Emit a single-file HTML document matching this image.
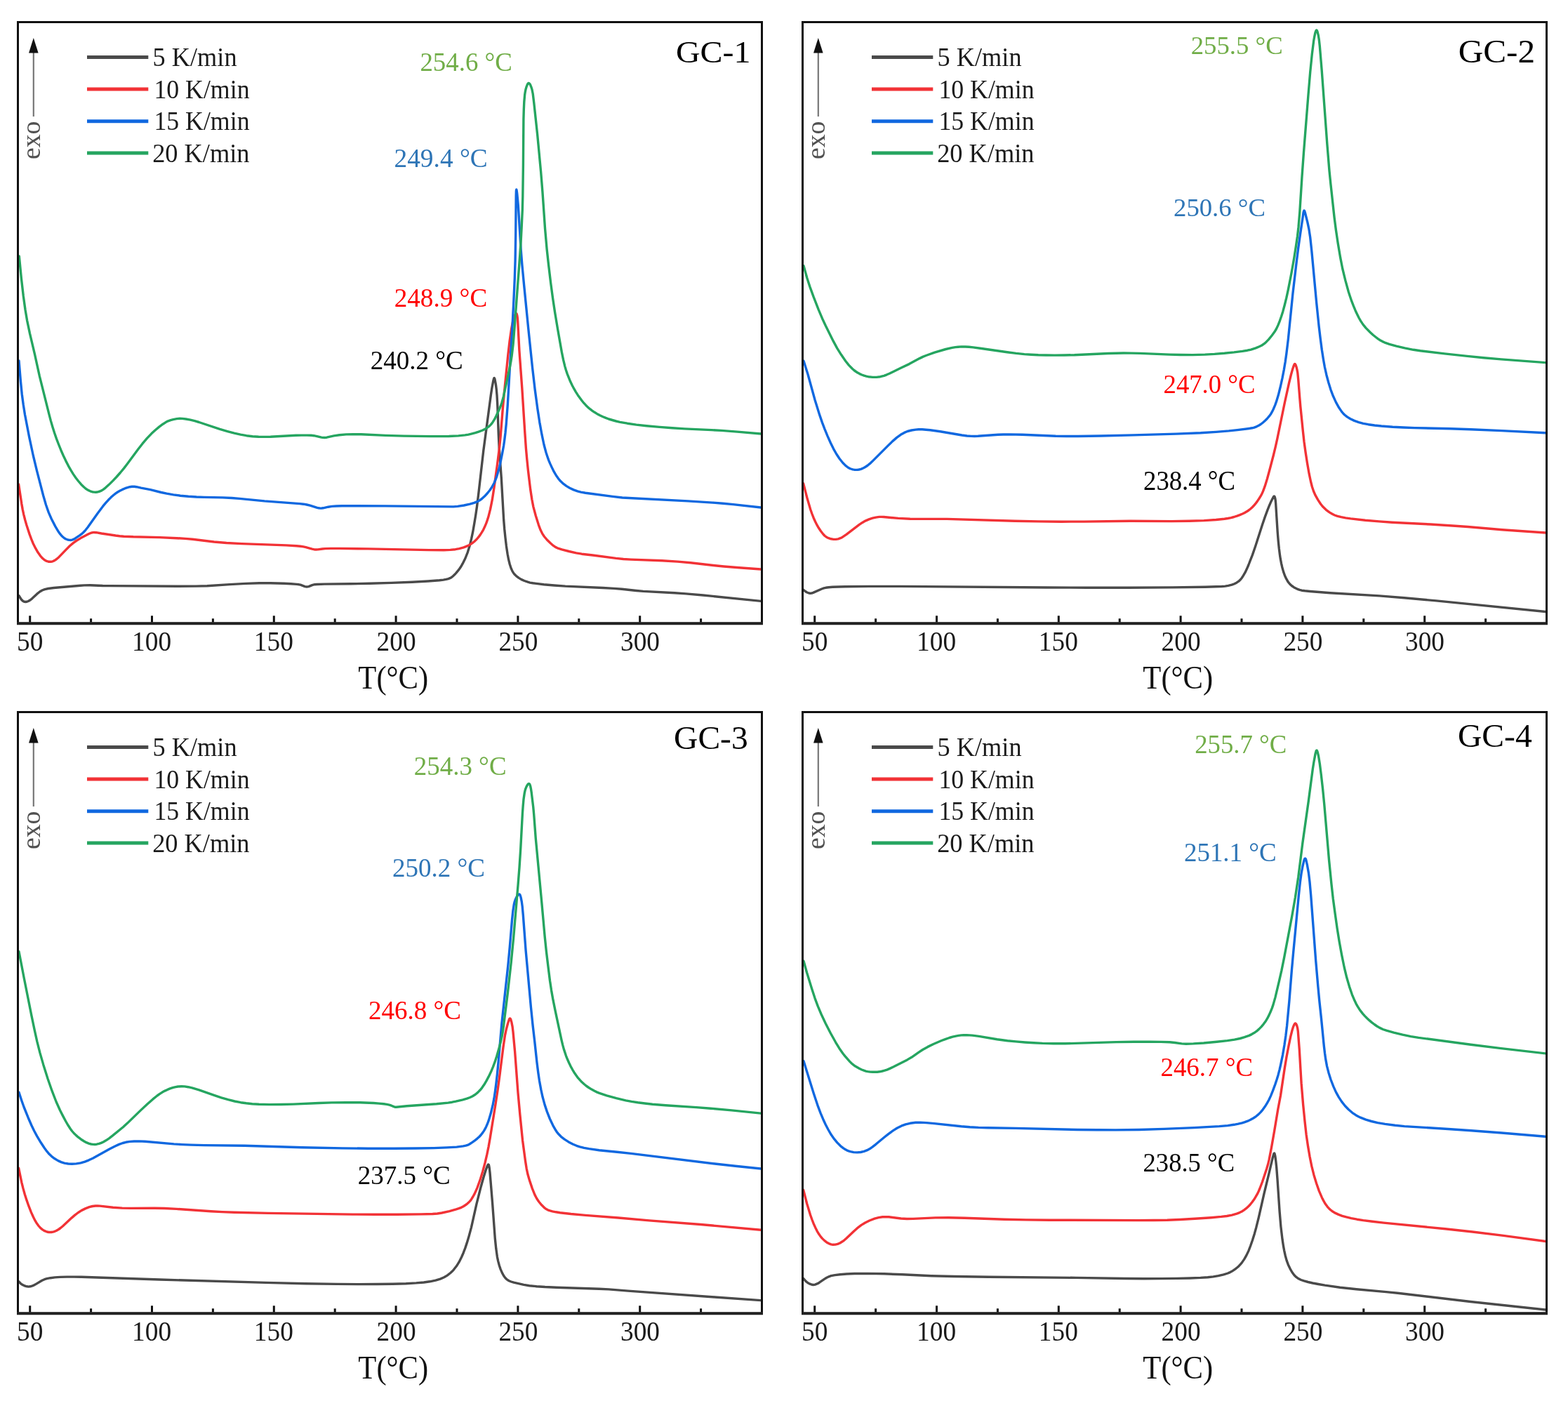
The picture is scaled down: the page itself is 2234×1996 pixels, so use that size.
<!DOCTYPE html>
<html><head><meta charset="utf-8"><title>DSC curves GC-1 to GC-4</title>
<style>html,body{margin:0;padding:0;background:#fff;}svg{display:block;}text{font-family:"Liberation Serif","Times New Roman",serif;}</style>
</head><body>
<svg xmlns="http://www.w3.org/2000/svg" width="2234" height="1996" viewBox="0 0 2234 1996">
<rect width="2234" height="1996" fill="#fff"/>
<defs>
<clipPath id="c1"><rect x="27" y="33" width="1057" height="853.5"/></clipPath>
<clipPath id="c2"><rect x="1145" y="33" width="1057" height="853.5"/></clipPath>
<clipPath id="c3"><rect x="27" y="1016" width="1057" height="853.5"/></clipPath>
<clipPath id="c4"><rect x="1145" y="1016" width="1057" height="853.5"/></clipPath>
</defs>
<g clip-path="url(#c1)" fill="none" stroke-width="3.4" stroke-linejoin="round" stroke-linecap="round">
<path d="M27.0,848.7 30.1,853.7 32.3,856.0 33.6,856.8 35.0,857.3 36.5,857.5 37.8,857.3 40.3,856.5 43.3,854.7 45.9,852.6 52.7,846.2 56.7,843.0 60.1,841.0 63.8,839.6 68.8,838.5 76.7,837.5 114.6,834.2 120.0,833.9 128.4,833.8 146.3,834.5 155.3,834.6 252.2,835.2 279.0,835.1 295.1,834.7 327.3,832.6 350.3,831.4 369.4,830.8 385.3,830.7 405.0,831.2 414.5,831.7 422.9,832.4 426.1,832.8 428.0,833.2 434.4,835.6 435.7,835.9 437.1,836.0 438.4,835.9 439.8,835.6 444.7,833.6 446.4,833.1 448.3,832.7 451.4,832.5 462.4,832.1 500.0,831.8 526.3,831.3 557.5,830.4 587.3,829.3 609.8,828.0 626.1,826.8 631.7,826.1 635.6,825.4 638.8,824.6 641.1,823.7 643.4,822.4 645.2,821.0 647.8,818.6 650.0,816.2 652.7,812.9 654.9,810.0 657.2,806.5 659.2,802.9 662.9,795.5 666.4,786.6 669.2,777.6 671.6,767.7 673.7,757.7 675.6,746.8 677.6,734.8 679.5,721.7 681.9,702.4 688.8,642.0 699.5,561.8 701.0,552.1 702.7,543.0 703.6,539.5 704.0,538.6 704.2,538.5 704.6,539.0 705.0,540.2 706.4,547.7 707.3,554.9 708.0,562.9 708.8,577.4 710.3,619.2 711.2,638.1 714.3,680.9 717.7,741.0 718.7,753.5 720.0,766.1 721.4,777.9 723.1,789.2 724.6,797.2 726.3,804.0 728.2,809.8 730.2,814.1 731.7,816.4 732.9,818.0 735.8,820.9 739.2,823.4 742.9,825.6 747.2,827.5 752.0,829.2 755.1,830.1 759.3,830.8 774.9,832.7 789.6,834.0 805.5,835.1 858.9,837.5 874.5,838.4 886.0,839.3 906.5,841.5 916.5,842.4 961.3,844.8 977.2,845.9 1001.7,848.0 1084.0,856.4" stroke="#4a4a4a"/>
<path d="M26.6,690.0 30.8,717.6 32.2,725.6 33.8,733.1 35.8,741.0 37.9,748.2 42.1,761.1 44.7,768.2 47.3,774.5 50.7,781.2 53.9,786.8 57.4,791.8 60.3,795.1 63.4,797.7 66.5,799.4 68.4,800.0 69.8,800.2 72.4,800.3 75.0,799.8 77.6,798.6 80.4,796.8 84.2,793.4 93.6,783.6 99.4,777.8 104.3,773.6 108.6,770.5 115.1,766.6 126.1,760.8 128.5,759.7 130.5,759.0 132.5,758.6 133.8,758.5 137.2,758.7 144.6,760.0 164.7,763.0 170.5,763.7 176.4,764.2 189.9,764.8 227.7,765.6 251.9,766.7 263.7,767.4 274.2,768.3 305.0,772.0 322.7,773.5 344.6,774.6 407.9,776.9 422.3,777.7 428.0,778.3 432.3,778.9 435.7,779.7 444.6,782.2 447.3,782.7 450.0,783.0 452.9,782.9 459.3,782.0 463.3,781.6 471.3,781.4 483.3,781.4 524.3,781.9 611.4,783.6 632.3,783.7 641.6,783.4 648.7,782.7 654.4,781.7 660.7,779.9 664.5,778.4 668.2,776.7 671.2,774.9 673.9,773.0 676.5,770.9 679.4,768.0 681.6,765.4 684.1,762.1 686.3,758.7 688.6,754.8 690.6,750.6 692.5,746.2 694.2,741.4 695.7,736.8 698.6,725.3 701.3,711.9 703.9,695.2 708.6,661.0 711.6,637.2 713.2,621.2 716.5,580.0 718.4,559.6 723.9,504.8 726.1,485.9 728.7,468.1 730.9,456.8 732.2,452.4 733.4,449.2 734.7,447.0 735.1,446.6 735.5,446.5 736.1,447.0 736.7,449.1 737.3,452.7 737.7,457.7 739.9,499.5 743.8,552.8 747.9,617.4 749.4,638.8 750.7,653.3 752.3,669.2 754.1,684.3 755.8,698.1 757.9,711.8 759.9,722.1 763.3,734.7 767.3,747.6 770.1,755.1 772.6,760.1 775.5,764.5 780.1,769.8 784.2,773.8 788.1,777.2 791.3,779.4 794.2,780.8 800.5,782.8 810.6,785.5 821.0,787.8 828.8,789.2 844.4,791.0 877.6,795.4 888.2,796.5 899.0,797.1 943.3,798.8 965.5,800.1 983.9,801.8 1016.4,805.5 1031.2,807.0 1053.0,808.8 1084.0,811.0" stroke="#f23236"/>
<path d="M27.0,514.0 29.4,543.0 31.2,561.2 33.2,576.3 35.5,590.7 41.6,622.4 47.3,649.0 52.7,671.4 61.6,705.7 65.5,719.3 69.2,729.9 73.3,739.2 78.9,750.1 83.5,757.8 85.4,760.4 87.5,763.0 89.6,765.0 91.7,766.7 93.9,768.0 96.5,769.0 98.7,769.4 100.8,769.5 102.8,769.1 104.7,768.4 107.7,766.7 113.4,762.9 116.1,760.9 118.8,758.5 121.8,755.3 125.0,751.2 139.0,731.4 146.7,721.2 150.7,716.4 154.4,712.3 158.1,708.6 161.6,705.5 164.9,702.9 167.7,701.0 170.7,699.3 174.4,697.4 178.3,695.7 181.6,694.6 184.9,693.7 188.0,693.2 191.4,693.2 194.6,693.7 201.0,695.1 214.3,697.7 229.6,701.5 237.4,703.2 247.1,704.9 257.0,706.2 268.5,707.3 280.0,708.0 290.9,708.4 317.2,708.9 330.3,709.5 341.2,710.4 376.9,713.9 427.0,717.6 432.4,718.2 437.0,719.0 441.7,720.2 451.1,723.2 453.8,723.8 456.4,724.1 458.4,724.0 460.4,723.8 467.7,722.2 472.9,721.4 479.3,721.0 487.5,720.7 548.5,720.9 646.0,721.9 652.0,721.4 661.0,720.0 669.5,718.2 675.6,716.4 680.0,714.7 683.4,712.8 686.6,710.5 690.4,707.1 694.6,702.5 698.2,698.0 701.2,693.3 704.0,688.2 706.0,683.5 707.9,678.4 709.7,672.2 711.6,665.1 713.7,655.5 715.7,645.5 717.6,635.0 718.8,626.4 720.0,616.7 721.2,604.6 723.3,576.7 726.8,516.5 729.9,467.2 731.8,430.0 733.3,396.8 734.1,371.3 734.7,335.8 735.2,279.4 735.4,272.3 735.6,270.4 735.8,270.0 736.2,271.6 736.7,275.4 738.3,292.7 742.2,356.0 743.9,377.6 746.6,406.0 752.7,467.6 758.5,523.4 762.2,555.2 765.8,582.0 768.8,601.6 771.9,618.7 775.0,633.5 778.0,644.8 779.9,650.5 781.7,655.6 783.8,660.6 786.1,665.6 788.5,670.6 790.8,674.7 793.2,678.6 795.5,681.8 798.7,685.6 802.6,689.2 806.9,692.4 811.7,695.2 817.3,697.9 822.9,699.9 827.6,701.1 834.0,702.2 872.8,707.4 886.6,709.0 980.2,713.9 1015.3,716.1 1030.0,717.2 1044.6,718.6 1084.0,723.0" stroke="#1068e0"/>
<path d="M27.3,365.0 30.4,396.7 33.3,421.7 36.0,441.2 38.7,457.1 42.5,475.1 49.6,505.2 56.4,536.1 69.9,590.1 72.4,599.6 74.9,608.2 77.6,616.8 80.4,624.9 83.5,633.0 86.8,641.2 90.2,649.0 93.8,656.6 97.5,663.8 101.1,670.2 104.3,675.4 107.8,680.5 111.7,685.5 115.7,690.2 119.4,693.8 122.2,696.2 125.6,698.4 128.7,699.8 131.3,700.7 133.9,701.1 136.7,701.2 139.9,700.7 142.3,700.0 144.8,698.9 147.5,697.1 150.4,694.8 155.1,690.6 160.9,684.9 166.0,679.5 171.3,673.5 176.4,667.4 181.3,661.0 197.0,639.8 202.9,632.2 209.5,624.4 216.0,617.6 221.0,613.0 226.8,608.1 232.1,604.2 236.2,601.6 239.6,599.8 243.0,598.6 246.8,597.6 251.8,596.6 256.1,596.3 259.7,596.4 264.8,597.0 271.1,598.2 277.3,599.7 283.5,601.5 313.2,611.4 324.2,614.6 333.8,617.2 342.7,619.1 351.3,620.7 359.8,621.7 368.4,622.3 376.6,622.4 385.4,622.3 421.6,620.3 429.7,620.1 437.4,620.1 443.3,620.3 447.3,620.7 450.6,621.3 458.0,623.1 460.0,623.4 462.1,623.5 465.5,623.2 475.7,620.9 483.5,619.8 493.3,618.9 503.0,618.6 514.5,618.8 549.3,620.4 575.5,621.1 612.8,621.6 639.5,621.5 653.1,620.9 662.5,619.9 667.4,619.1 672.5,617.9 677.2,616.7 681.9,615.2 687.6,613.0 692.6,610.4 696.5,607.7 699.4,604.9 701.9,601.7 704.7,597.2 707.1,592.3 711.6,582.5 713.4,578.2 714.8,574.2 717.3,565.1 726.3,523.3 727.9,515.0 729.1,507.2 731.1,490.5 733.3,463.5 740.8,363.4 742.2,342.7 743.3,321.0 744.3,299.3 744.8,279.9 745.4,235.2 745.9,170.2 746.3,156.2 746.8,145.0 747.7,134.7 748.3,130.8 749.1,126.9 750.1,123.6 751.3,120.5 752.3,119.0 753.0,118.5 753.4,118.5 753.8,118.6 754.5,119.2 755.6,120.8 756.8,123.8 758.0,127.6 759.2,133.5 760.8,146.8 765.7,192.3 770.6,244.3 772.9,272.8 776.6,326.3 779.1,354.9 781.5,376.8 784.6,402.6 787.6,424.9 790.6,445.0 794.6,469.0 800.3,501.4 802.6,512.7 804.9,522.1 806.4,527.3 808.2,532.6 810.2,537.7 812.5,543.3 815.1,548.7 817.7,553.7 820.4,558.4 823.3,562.9 828.8,570.5 831.8,574.2 834.6,577.2 837.5,580.1 840.6,582.7 843.7,585.1 847.0,587.3 850.4,589.4 854.7,591.7 859.0,593.7 863.1,595.4 867.3,597.0 872.4,598.5 877.7,600.0 883.3,601.3 893.8,603.2 906.6,605.1 921.2,606.7 939.6,608.4 957.8,609.8 975.2,610.9 1013.9,612.6 1027.9,613.4 1050.4,615.1 1084.0,618.0" stroke="#25a560"/>
</g>
<path d="M25.5,31.5H1085.5V888.3H25.5Z" fill="none" stroke="#111" stroke-width="3"/>
<path d="M24,888.3H1087" stroke="#222" stroke-width="4"/>
<path d="M42.7,886.5V877.3M216.5,886.5V877.3M390.3,886.5V877.3M564.1,886.5V877.3M737.9,886.5V877.3M911.7,886.5V877.3M129.6,886.5V881.3M303.4,886.5V881.3M477.2,886.5V881.3M651.0,886.5V881.3M824.8,886.5V881.3M998.6,886.5V881.3" stroke="#111" stroke-width="3"/>
<text transform="translate(24.06,927.21) scale(0.9472,1)" font-size="39.40" fill="#1a1a1a">50</text>
<text transform="translate(188.07,927.21) scale(0.9472,1)" font-size="39.40" fill="#1a1a1a">100</text>
<text transform="translate(361.87,927.21) scale(0.9472,1)" font-size="39.40" fill="#1a1a1a">150</text>
<text transform="translate(536.61,927.21) scale(0.9472,1)" font-size="39.40" fill="#1a1a1a">200</text>
<text transform="translate(710.41,927.21) scale(0.9472,1)" font-size="39.40" fill="#1a1a1a">250</text>
<text transform="translate(884.02,927.21) scale(0.9472,1)" font-size="39.40" fill="#1a1a1a">300</text>
<text transform="translate(510.35,981.32) scale(0.9245,1)" font-size="46.11" fill="#111">T(°C)</text>
<path d="M47.8,75V166" stroke="#777" stroke-width="2.2"/>
<path d="M47.8,54L54.6,75.5L41,75.5Z" fill="#111"/>
<text transform="translate(57.23,227.01) rotate(-90) scale(1.0199,1)" font-size="37" fill="#505050">exo</text>
<path d="M124,81.6H211.3" stroke="#4a4a4a" stroke-width="5"/>
<text transform="translate(217.62,94.20) scale(0.9499,1)" font-size="38.2" fill="#1a1a1a">5 K/min</text>
<path d="M124,127H211.3" stroke="#f23236" stroke-width="5"/>
<text transform="translate(219.38,139.80) scale(0.9367,1)" font-size="38.2" fill="#1a1a1a">10 K/min</text>
<path d="M124,172.7H211.3" stroke="#1068e0" stroke-width="5"/>
<text transform="translate(219.38,185.20) scale(0.9367,1)" font-size="38.2" fill="#1a1a1a">15 K/min</text>
<path d="M124,218H211.3" stroke="#25a560" stroke-width="5"/>
<text transform="translate(217.15,230.60) scale(0.9522,1)" font-size="38.2" fill="#1a1a1a">20 K/min</text>
<text transform="translate(962.88,88.60) scale(1.0660,1)" font-size="45.00" fill="#000">GC-1</text>
<text transform="translate(598.42,101.04) scale(0.9685,1)" font-size="38.09" fill="#70ad47">254.6 °C</text>
<text transform="translate(561.50,237.86) scale(1.0046,1)" font-size="37.21" fill="#2e75b6">249.4 °C</text>
<text transform="translate(561.71,437.05) scale(0.9953,1)" font-size="37.35" fill="#ff0000">248.9 °C</text>
<text transform="translate(527.72,525.56) scale(0.9953,1)" font-size="37.21" fill="#000000">240.2 °C</text>
<g clip-path="url(#c2)" fill="none" stroke-width="3.4" stroke-linejoin="round" stroke-linecap="round">
<path d="M1144.6,840.2 1147.4,842.5 1149.8,844.0 1152.4,845.0 1154.5,845.2 1156.6,845.0 1158.6,844.4 1170.8,839.0 1173.9,837.9 1176.6,837.3 1180.7,836.7 1186.2,836.3 1204.1,835.7 1238.3,835.4 1282.3,835.4 1491.3,837.0 1548.6,837.2 1607.2,837.2 1670.3,836.9 1717.2,836.2 1740.6,835.5 1745.6,835.1 1750.0,834.3 1755.0,833.2 1758.2,832.0 1761.8,830.2 1764.8,828.2 1766.8,826.3 1769.2,823.5 1771.5,819.9 1774.1,815.4 1776.4,810.6 1778.8,805.0 1784.4,790.6 1788.9,777.5 1798.6,747.2 1802.4,736.1 1806.0,726.4 1808.7,719.7 1811.0,714.4 1813.9,708.7 1814.7,707.5 1815.4,707.0 1815.9,707.4 1816.6,709.3 1817.2,712.6 1817.6,716.7 1820.2,758.0 1821.2,770.5 1822.3,781.4 1823.3,789.4 1824.3,796.2 1825.6,802.8 1826.8,808.2 1828.6,814.6 1830.6,820.3 1832.7,824.7 1835.1,828.9 1837.6,832.0 1840.3,834.5 1843.8,836.9 1848.1,839.1 1851.6,840.4 1854.7,841.2 1859.2,841.8 1866.4,842.5 1895.1,844.7 1965.2,848.9 2000.7,851.7 2046.3,855.9 2202.6,871.6" stroke="#4a4a4a"/>
<path d="M1144.6,688.6 1150.3,710.8 1154.7,725.8 1156.9,732.0 1159.1,737.7 1161.6,743.3 1164.1,748.2 1166.5,752.3 1169.5,756.8 1172.8,761.0 1175.2,763.5 1177.5,765.2 1180.6,766.7 1184.0,767.8 1187.6,768.4 1190.9,768.4 1194.2,767.8 1197.4,766.7 1200.4,765.2 1206.0,761.4 1224.3,747.4 1228.8,744.4 1232.9,742.1 1238.0,739.9 1243.2,738.2 1247.8,737.1 1252.7,736.4 1255.8,736.4 1259.1,736.5 1279.8,738.4 1296.6,739.2 1349.2,739.4 1445.8,742.3 1479.2,742.9 1512.2,743.2 1544.6,743.1 1610.8,742.2 1668.8,742.6 1694.4,742.3 1715.3,741.6 1732.5,740.5 1744.5,739.3 1749.5,738.5 1753.9,737.6 1758.1,736.5 1762.4,735.1 1766.4,733.6 1770.3,732.0 1773.4,730.5 1776.3,728.8 1778.8,727.2 1781.6,725.0 1784.1,722.7 1786.5,720.3 1788.7,717.7 1791.2,714.4 1793.8,710.5 1796.2,706.7 1798.0,703.2 1799.5,699.9 1802.1,692.9 1805.4,682.2 1809.4,667.5 1814.5,648.0 1817.3,636.4 1819.9,624.6 1830.4,573.5 1836.6,545.4 1839.5,533.5 1841.6,526.0 1843.5,520.4 1844.2,519.0 1844.9,518.5 1845.2,518.6 1845.9,519.6 1847.0,522.7 1848.0,526.9 1848.8,531.3 1849.8,541.7 1851.7,565.9 1852.8,579.0 1856.3,613.7 1858.0,629.2 1860.0,643.8 1862.4,659.2 1865.2,675.2 1867.5,686.0 1869.4,693.5 1871.5,699.7 1874.1,705.7 1877.6,711.8 1881.6,718.0 1884.9,722.1 1889.3,726.3 1894.1,729.9 1898.1,732.3 1901.6,734.0 1905.6,735.4 1910.9,736.7 1917.1,737.9 1924.3,738.9 1945.2,741.2 1964.8,742.9 1983.5,744.2 2038.4,747.0 2073.1,749.2 2091.1,750.5 2140.3,754.7 2202.6,759.0" stroke="#f23236"/>
<path d="M1145.0,514.2 1151.0,533.3 1161.2,570.3 1167.8,591.4 1171.3,601.6 1174.9,611.1 1179.0,621.1 1183.4,631.0 1187.6,639.6 1191.8,647.0 1196.1,653.5 1200.7,659.2 1204.5,663.1 1208.2,666.0 1210.5,667.3 1212.4,668.0 1215.0,668.8 1217.1,669.2 1219.1,669.4 1221.9,669.3 1223.9,669.0 1226.5,668.3 1229.1,667.3 1231.7,666.0 1234.1,664.5 1236.3,663.0 1239.5,660.4 1242.5,657.6 1265.5,634.6 1271.4,628.9 1277.7,623.4 1283.3,619.3 1288.4,616.4 1292.9,614.5 1298.7,613.0 1304.5,612.1 1308.8,611.8 1313.9,611.8 1319.4,612.2 1325.4,612.8 1339.6,614.8 1370.4,620.0 1377.7,621.0 1383.7,621.4 1388.4,621.5 1393.5,621.3 1422.0,619.3 1429.6,619.0 1438.1,618.9 1456.5,619.2 1504.1,621.2 1519.6,621.5 1535.7,621.5 1568.5,621.0 1614.9,619.9 1675.8,618.1 1710.5,616.8 1732.6,615.4 1750.8,613.9 1762.8,612.6 1780.9,610.3 1784.0,609.8 1786.8,609.1 1790.2,607.8 1793.3,606.2 1796.2,604.5 1799.4,602.0 1802.5,599.3 1805.3,596.5 1808.3,592.9 1810.7,589.7 1812.4,586.7 1814.2,583.0 1816.6,577.3 1818.4,572.4 1821.4,562.6 1824.5,550.0 1827.0,538.6 1829.3,526.8 1831.2,515.5 1832.9,503.6 1835.4,482.9 1841.9,418.4 1846.6,378.2 1849.7,353.6 1852.5,333.7 1855.4,314.6 1857.0,303.0 1857.6,300.7 1858.0,300.0 1858.2,300.1 1858.7,300.8 1859.4,303.0 1862.9,316.8 1865.0,326.9 1866.7,338.0 1868.8,357.5 1875.6,430.7 1879.1,464.7 1881.2,482.2 1883.3,498.3 1885.4,511.7 1887.4,523.0 1889.9,534.2 1892.8,545.0 1896.0,555.3 1899.4,564.3 1903.3,572.9 1907.7,580.8 1911.5,586.4 1913.7,589.0 1915.7,591.0 1919.3,593.9 1924.0,596.8 1929.5,599.4 1935.8,601.6 1942.3,603.3 1949.5,604.7 1958.5,606.0 1968.2,607.0 1984.1,608.2 1999.6,609.0 2015.7,609.6 2066.4,610.8 2095.6,611.7 2139.5,613.6 2202.6,616.8" stroke="#1068e0"/>
<path d="M1145.0,378.8 1149.9,396.3 1153.9,408.6 1159.2,423.2 1166.3,441.3 1171.5,453.7 1176.3,464.0 1187.2,485.9 1192.7,496.1 1198.5,505.3 1204.8,514.5 1209.5,520.4 1214.3,525.3 1216.8,527.5 1219.6,529.5 1221.9,531.0 1224.8,532.6 1227.9,534.0 1231.1,535.2 1234.5,536.1 1237.2,536.7 1243.3,537.4 1248.8,537.4 1254.2,536.7 1259.5,535.3 1263.4,533.8 1267.1,532.2 1283.4,524.2 1295.4,518.6 1310.2,510.6 1314.7,508.4 1319.4,506.5 1331.6,502.2 1347.4,497.5 1356.6,495.4 1361.2,494.6 1365.2,494.2 1369.9,493.9 1375.1,494.0 1380.4,494.3 1386.5,494.9 1396.6,496.2 1435.0,501.8 1447.7,503.4 1459.5,504.6 1469.3,505.3 1479.3,505.8 1490.2,506.0 1502.5,506.1 1516.6,506.0 1530.7,505.7 1578.9,503.5 1601.0,503.0 1611.9,503.1 1624.1,503.4 1666.2,505.1 1681.9,505.5 1699.4,505.6 1716.8,505.1 1730.4,504.4 1744.5,503.3 1758.2,501.9 1770.1,500.4 1777.2,499.2 1782.3,498.1 1789.1,495.9 1794.2,493.8 1797.8,492.0 1801.2,489.7 1804.3,486.9 1807.5,483.6 1812.3,477.7 1815.9,472.8 1818.5,468.5 1820.9,463.4 1823.3,457.3 1825.6,450.8 1827.9,443.4 1830.3,434.5 1832.8,424.4 1835.3,412.9 1839.9,389.5 1843.7,368.0 1846.3,351.5 1848.5,336.5 1850.0,323.5 1851.8,301.9 1855.0,251.7 1857.5,216.9 1864.0,134.9 1866.7,102.9 1869.3,77.1 1871.7,58.0 1872.8,51.8 1873.8,47.1 1874.7,44.3 1875.4,43.2 1875.7,43.0 1876.0,43.1 1876.4,43.6 1877.0,45.1 1878.2,49.8 1879.3,56.6 1880.3,65.6 1883.1,99.2 1890.9,205.8 1894.0,243.6 1895.8,261.3 1901.1,310.0 1903.4,327.8 1906.2,346.5 1909.6,366.7 1912.8,383.0 1916.8,399.4 1921.3,415.8 1923.6,422.7 1925.8,429.2 1928.3,435.7 1931.0,442.2 1933.6,447.7 1936.2,453.0 1938.7,457.3 1940.9,460.7 1943.3,463.9 1945.9,467.1 1952.2,473.5 1956.3,477.2 1960.4,480.5 1963.5,482.9 1966.8,485.0 1969.8,486.6 1972.4,487.8 1979.5,490.3 1989.5,493.1 2001.4,495.9 2013.6,498.3 2023.6,499.8 2058.1,503.9 2090.5,507.4 2113.9,509.7 2138.8,511.9 2202.6,516.7" stroke="#25a560"/>
</g>
<path d="M1143.5,31.5H2203.5V888.3H1143.5Z" fill="none" stroke="#111" stroke-width="3"/>
<path d="M1142,888.3H2205" stroke="#222" stroke-width="4"/>
<path d="M1160.7,886.5V877.3M1334.5,886.5V877.3M1508.3,886.5V877.3M1682.1,886.5V877.3M1855.9,886.5V877.3M2029.7,886.5V877.3M1247.6,886.5V881.3M1421.4,886.5V881.3M1595.2,886.5V881.3M1769.0,886.5V881.3M1942.8,886.5V881.3M2116.6,886.5V881.3" stroke="#111" stroke-width="3"/>
<text transform="translate(1142.06,927.21) scale(0.9472,1)" font-size="39.40" fill="#1a1a1a">50</text>
<text transform="translate(1306.07,927.21) scale(0.9472,1)" font-size="39.40" fill="#1a1a1a">100</text>
<text transform="translate(1479.87,927.21) scale(0.9472,1)" font-size="39.40" fill="#1a1a1a">150</text>
<text transform="translate(1654.61,927.21) scale(0.9472,1)" font-size="39.40" fill="#1a1a1a">200</text>
<text transform="translate(1828.41,927.21) scale(0.9472,1)" font-size="39.40" fill="#1a1a1a">250</text>
<text transform="translate(2002.02,927.21) scale(0.9472,1)" font-size="39.40" fill="#1a1a1a">300</text>
<text transform="translate(1628.35,981.32) scale(0.9245,1)" font-size="46.11" fill="#111">T(°C)</text>
<path d="M1165.8,75V166" stroke="#777" stroke-width="2.2"/>
<path d="M1165.8,54L1172.6,75.5L1159,75.5Z" fill="#111"/>
<text transform="translate(1175.23,227.01) rotate(-90) scale(1.0199,1)" font-size="37" fill="#505050">exo</text>
<path d="M1242,81.6H1329.3" stroke="#4a4a4a" stroke-width="5"/>
<text transform="translate(1335.62,94.20) scale(0.9499,1)" font-size="38.2" fill="#1a1a1a">5 K/min</text>
<path d="M1242,127H1329.3" stroke="#f23236" stroke-width="5"/>
<text transform="translate(1337.38,139.80) scale(0.9367,1)" font-size="38.2" fill="#1a1a1a">10 K/min</text>
<path d="M1242,172.7H1329.3" stroke="#1068e0" stroke-width="5"/>
<text transform="translate(1337.38,185.20) scale(0.9367,1)" font-size="38.2" fill="#1a1a1a">15 K/min</text>
<path d="M1242,218H1329.3" stroke="#25a560" stroke-width="5"/>
<text transform="translate(1335.15,230.60) scale(0.9522,1)" font-size="38.2" fill="#1a1a1a">20 K/min</text>
<text transform="translate(2077.63,88.68) scale(1.0713,1)" font-size="45.97" fill="#000">GC-2</text>
<text transform="translate(1696.73,77.47) scale(1.0116,1)" font-size="36.32" fill="#70ad47">255.5 °C</text>
<text transform="translate(1672.03,308.47) scale(1.0116,1)" font-size="36.32" fill="#2e75b6">250.6 °C</text>
<text transform="translate(1657.53,560.44) scale(0.9602,1)" font-size="38.24" fill="#ff0000">247.0 °C</text>
<text transform="translate(1629.03,697.70) scale(0.9186,1)" font-size="40.00" fill="#000000">238.4 °C</text>
<g clip-path="url(#c3)" fill="none" stroke-width="3.4" stroke-linejoin="round" stroke-linecap="round">
<path d="M26.6,1825.7 29.6,1828.8 31.9,1830.4 33.9,1831.3 36.5,1832.3 38.5,1832.8 40.6,1833.1 43.3,1832.8 47.0,1831.7 50.1,1830.1 59.9,1824.3 63.4,1822.7 66.7,1821.7 71.9,1820.7 78.2,1819.9 85.9,1819.4 95.5,1819.1 105.1,1819.1 116.0,1819.3 227.5,1823.0 378.8,1827.4 434.6,1828.7 480.2,1829.4 510.2,1829.6 536.8,1829.5 559.4,1829.2 578.4,1828.7 592.9,1827.9 603.8,1827.0 612.5,1825.8 620.6,1824.1 627.3,1822.1 632.7,1819.8 637.2,1817.1 641.8,1813.5 644.2,1811.3 646.5,1808.8 650.4,1803.8 654.1,1797.9 657.7,1790.7 660.3,1784.7 662.7,1778.4 665.2,1770.9 667.6,1763.1 671.5,1748.6 679.0,1715.1 684.7,1692.5 688.9,1677.5 692.2,1666.8 694.4,1660.8 695.3,1659.3 695.8,1659.0 696.3,1659.4 696.8,1661.3 697.4,1665.1 698.0,1670.5 701.6,1714.2 705.3,1764.5 706.8,1779.1 708.4,1790.6 709.8,1797.1 711.3,1802.7 713.1,1808.1 715.4,1813.4 717.6,1817.5 719.8,1820.5 722.3,1822.9 725.1,1824.7 728.2,1826.0 732.0,1827.2 746.2,1830.4 754.3,1831.7 764.5,1832.7 776.6,1833.5 792.9,1834.2 853.6,1836.3 867.2,1836.9 894.9,1839.1 1018.4,1848.0 1084.0,1852.6" stroke="#4a4a4a"/>
<path d="M26.6,1664.2 30.9,1684.8 32.9,1692.9 35.3,1701.5 38.0,1709.9 40.9,1718.2 44.4,1727.1 47.4,1733.8 50.0,1738.9 52.5,1743.1 55.0,1746.5 57.8,1749.7 60.6,1751.9 63.6,1753.7 66.9,1755.0 69.6,1755.5 73.1,1755.5 76.6,1754.8 80.0,1753.5 83.5,1751.5 86.3,1749.5 89.6,1746.8 102.1,1735.1 106.7,1731.1 111.5,1727.5 116.0,1724.6 121.5,1721.9 127.2,1719.7 131.8,1718.5 136.0,1718.0 139.1,1717.9 142.4,1718.1 161.0,1720.2 174.0,1721.1 187.2,1721.4 220.1,1721.2 234.2,1721.5 251.5,1722.4 300.4,1725.8 316.5,1726.6 333.9,1727.3 382.0,1728.4 502.7,1730.1 534.3,1730.3 565.8,1730.2 600.0,1729.9 616.2,1729.5 623.2,1729.0 629.4,1728.0 640.3,1725.6 649.9,1722.9 653.7,1721.7 657.2,1720.3 660.2,1718.7 662.9,1717.0 665.6,1715.1 667.8,1713.1 669.9,1710.9 671.7,1708.4 673.8,1705.0 675.8,1701.4 678.0,1696.8 680.1,1691.8 684.0,1681.2 687.8,1668.7 691.1,1656.5 693.9,1644.4 696.1,1633.6 698.3,1621.0 706.3,1571.2 709.1,1552.7 711.8,1532.9 717.0,1491.7 719.4,1475.4 721.3,1466.5 723.5,1458.3 725.2,1452.9 726.0,1451.3 726.6,1451.0 727.2,1451.4 727.8,1452.6 728.8,1456.1 730.1,1462.6 731.0,1470.0 733.6,1498.1 738.0,1556.9 740.9,1588.5 744.6,1625.0 748.5,1653.9 750.2,1664.8 752.0,1673.3 754.7,1682.4 758.3,1693.1 761.9,1702.1 764.7,1707.5 767.7,1712.0 771.7,1716.8 776.2,1721.2 778.2,1722.6 780.5,1723.8 783.6,1724.9 787.1,1725.8 792.1,1726.8 798.0,1727.7 813.5,1729.5 834.1,1731.4 881.1,1735.0 925.0,1738.9 998.3,1744.5 1084.0,1752.2" stroke="#f23236"/>
<path d="M27.0,1556.3 30.9,1568.2 34.0,1577.0 40.1,1592.2 45.0,1603.5 48.6,1611.0 52.7,1618.6 58.2,1627.8 63.1,1635.3 66.7,1640.2 70.2,1644.3 73.7,1647.6 78.0,1650.8 82.7,1653.6 87.1,1655.6 91.8,1657.1 97.2,1658.0 102.6,1658.3 108.8,1657.9 114.9,1656.8 120.9,1655.1 126.6,1652.8 132.2,1650.2 137.6,1647.3 156.5,1636.7 163.4,1633.2 169.6,1630.4 174.9,1628.5 179.4,1627.3 185.2,1626.4 191.1,1626.0 198.1,1625.9 206.7,1626.3 247.8,1629.9 259.8,1630.6 272.2,1631.1 291.0,1631.6 348.7,1632.3 430.2,1634.8 487.6,1635.9 524.5,1636.2 561.6,1636.2 592.6,1636.0 618.0,1635.6 636.6,1634.9 650.6,1634.1 660.0,1632.9 663.6,1632.2 666.2,1631.4 668.6,1630.2 673.0,1627.4 676.5,1624.9 680.0,1622.1 682.6,1619.7 685.0,1617.2 687.6,1613.9 689.5,1611.1 691.2,1608.2 692.9,1604.7 694.5,1601.0 696.2,1596.4 699.3,1586.1 702.2,1573.9 704.0,1564.7 705.5,1554.6 707.0,1543.0 708.4,1530.4 710.4,1509.6 714.9,1457.7 723.8,1375.8 726.3,1349.0 729.5,1310.8 730.9,1297.6 732.3,1288.5 733.1,1285.1 734.3,1281.6 735.7,1278.5 737.4,1275.8 739.0,1274.2 740.0,1274.0 740.4,1274.2 741.0,1275.1 742.0,1278.2 743.3,1284.6 744.2,1291.4 745.3,1303.5 749.1,1354.1 756.5,1435.6 759.1,1461.0 761.8,1484.3 765.0,1514.0 766.8,1528.2 768.5,1539.8 770.8,1552.4 773.2,1563.3 776.1,1573.9 779.4,1583.9 783.4,1594.0 787.8,1603.3 791.8,1610.3 793.7,1613.2 795.9,1615.8 799.3,1619.3 804.2,1623.1 810.1,1626.9 816.5,1630.3 821.4,1632.3 826.1,1633.8 832.1,1635.3 839.2,1636.6 853.7,1638.7 879.1,1641.2 898.9,1643.4 1018.4,1658.0 1047.7,1661.3 1084.0,1665.0" stroke="#1068e0"/>
<path d="M27.0,1355.8 34.3,1393.8 44.9,1446.9 49.4,1468.4 52.9,1484.2 56.9,1499.9 61.8,1516.9 68.1,1537.0 74.1,1554.2 80.0,1569.5 85.5,1581.8 89.5,1589.6 93.7,1597.5 97.1,1603.3 100.3,1608.2 102.7,1611.5 105.3,1614.5 108.3,1617.4 111.5,1620.2 115.5,1623.2 119.9,1626.0 122.9,1627.7 126.5,1629.1 129.6,1630.0 132.3,1630.4 135.0,1630.5 137.8,1630.2 141.2,1629.4 144.7,1628.1 147.6,1626.7 150.9,1624.8 155.4,1621.8 160.5,1617.9 175.4,1605.8 181.6,1600.1 200.4,1581.9 209.9,1573.0 217.9,1565.9 224.0,1561.0 227.7,1558.4 231.3,1556.1 235.0,1554.1 239.1,1552.2 242.9,1550.7 246.8,1549.4 250.2,1548.6 253.6,1548.0 258.6,1547.7 263.1,1547.9 268.3,1548.7 273.6,1549.9 283.6,1552.9 305.7,1560.7 315.3,1563.9 325.1,1566.7 334.4,1569.0 343.0,1570.7 350.8,1571.8 359.4,1572.7 368.9,1573.3 383.6,1573.6 400.0,1573.5 417.8,1573.1 454.4,1571.5 472.7,1570.9 493.4,1570.7 513.1,1570.8 532.3,1571.5 540.1,1572.1 546.8,1572.8 551.1,1573.4 554.6,1574.2 557.7,1575.2 561.8,1576.9 563.2,1577.3 564.7,1577.3 579.6,1575.8 621.9,1572.7 638.5,1571.1 644.3,1570.2 649.4,1569.2 659.3,1566.8 665.2,1565.2 669.7,1563.5 673.3,1561.7 677.3,1559.2 680.5,1556.6 683.8,1553.3 686.7,1549.8 689.8,1545.3 693.0,1539.9 696.2,1533.9 699.5,1527.1 702.4,1520.1 705.1,1512.9 707.8,1504.5 710.9,1493.7 713.3,1484.6 715.1,1476.5 716.3,1469.7 717.6,1460.9 723.4,1414.2 728.1,1372.4 731.6,1336.7 738.0,1261.3 740.0,1235.9 741.7,1209.9 744.4,1159.0 745.2,1147.8 746.0,1138.8 747.2,1130.4 748.0,1126.6 748.9,1123.6 750.1,1120.6 751.4,1118.3 752.6,1116.8 753.4,1116.5 753.8,1116.5 754.5,1117.1 755.1,1118.3 755.8,1120.6 756.4,1123.6 757.3,1129.6 759.7,1149.4 760.7,1160.4 763.3,1194.8 771.7,1284.6 776.2,1334.7 778.4,1355.7 781.4,1380.5 783.5,1397.3 785.5,1410.6 788.0,1424.7 791.4,1441.3 800.0,1481.6 801.6,1488.4 803.3,1494.6 806.5,1504.3 808.5,1509.3 810.7,1514.3 813.0,1519.1 815.6,1523.8 817.9,1527.7 820.7,1531.8 823.5,1535.7 826.2,1538.7 828.9,1541.6 831.9,1544.3 835.2,1547.0 838.8,1549.5 843.0,1552.1 847.0,1554.3 850.8,1556.1 854.0,1557.4 864.4,1560.8 878.2,1564.7 891.6,1567.8 899.8,1569.4 908.8,1570.8 918.8,1572.0 929.6,1573.2 948.4,1574.7 992.2,1577.6 1012.9,1579.2 1042.4,1581.9 1084.0,1586.1" stroke="#25a560"/>
</g>
<path d="M25.5,1014.5H1085.5V1871.3H25.5Z" fill="none" stroke="#111" stroke-width="3"/>
<path d="M24,1871.3H1087" stroke="#222" stroke-width="4"/>
<path d="M42.7,1869.5V1860.3M216.5,1869.5V1860.3M390.3,1869.5V1860.3M564.1,1869.5V1860.3M737.9,1869.5V1860.3M911.7,1869.5V1860.3M129.6,1869.5V1864.3M303.4,1869.5V1864.3M477.2,1869.5V1864.3M651.0,1869.5V1864.3M824.8,1869.5V1864.3M998.6,1869.5V1864.3" stroke="#111" stroke-width="3"/>
<text transform="translate(24.06,1910.21) scale(0.9472,1)" font-size="39.40" fill="#1a1a1a">50</text>
<text transform="translate(188.07,1910.21) scale(0.9472,1)" font-size="39.40" fill="#1a1a1a">100</text>
<text transform="translate(361.87,1910.21) scale(0.9472,1)" font-size="39.40" fill="#1a1a1a">150</text>
<text transform="translate(536.61,1910.21) scale(0.9472,1)" font-size="39.40" fill="#1a1a1a">200</text>
<text transform="translate(710.41,1910.21) scale(0.9472,1)" font-size="39.40" fill="#1a1a1a">250</text>
<text transform="translate(884.02,1910.21) scale(0.9472,1)" font-size="39.40" fill="#1a1a1a">300</text>
<text transform="translate(510.35,1964.32) scale(0.9245,1)" font-size="46.11" fill="#111">T(°C)</text>
<path d="M47.8,1058V1149" stroke="#777" stroke-width="2.2"/>
<path d="M47.8,1037L54.6,1058.5L41,1058.5Z" fill="#111"/>
<text transform="translate(57.23,1210.01) rotate(-90) scale(1.0199,1)" font-size="37" fill="#505050">exo</text>
<path d="M124,1064.6H211.3" stroke="#4a4a4a" stroke-width="5"/>
<text transform="translate(217.62,1077.20) scale(0.9499,1)" font-size="38.2" fill="#1a1a1a">5 K/min</text>
<path d="M124,1110H211.3" stroke="#f23236" stroke-width="5"/>
<text transform="translate(219.38,1122.80) scale(0.9367,1)" font-size="38.2" fill="#1a1a1a">10 K/min</text>
<path d="M124,1155.7H211.3" stroke="#1068e0" stroke-width="5"/>
<text transform="translate(219.38,1168.20) scale(0.9367,1)" font-size="38.2" fill="#1a1a1a">15 K/min</text>
<path d="M124,1201H211.3" stroke="#25a560" stroke-width="5"/>
<text transform="translate(217.15,1213.60) scale(0.9522,1)" font-size="38.2" fill="#1a1a1a">20 K/min</text>
<text transform="translate(960.10,1066.59) scale(1.0405,1)" font-size="45.67" fill="#000">GC-3</text>
<text transform="translate(589.72,1104.26) scale(0.9977,1)" font-size="37.06" fill="#70ad47">254.3 °C</text>
<text transform="translate(558.92,1249.36) scale(0.9961,1)" font-size="37.21" fill="#2e75b6">250.2 °C</text>
<text transform="translate(524.92,1451.56) scale(0.9961,1)" font-size="37.21" fill="#ff0000">246.8 °C</text>
<text transform="translate(509.72,1686.54) scale(0.9723,1)" font-size="38.09" fill="#000000">237.5 °C</text>
<g clip-path="url(#c4)" fill="none" stroke-width="3.4" stroke-linejoin="round" stroke-linecap="round">
<path d="M1144.6,1821.5 1148.1,1825.4 1150.7,1827.5 1153.1,1828.9 1155.2,1829.7 1157.2,1830.3 1158.6,1830.5 1160.0,1830.4 1161.3,1830.1 1165.0,1828.7 1167.4,1827.2 1174.4,1822.4 1177.4,1820.5 1180.9,1818.8 1184.0,1817.7 1189.5,1816.6 1196.9,1815.7 1206.0,1815.0 1217.4,1814.5 1236.5,1814.4 1259.8,1814.8 1285.7,1815.8 1327.0,1817.7 1359.2,1818.5 1408.6,1819.2 1532.9,1820.4 1602.8,1821.5 1630.0,1821.7 1654.6,1821.6 1676.7,1821.4 1695.4,1821.0 1710.4,1820.4 1720.7,1819.7 1728.6,1818.9 1735.8,1817.6 1743.4,1815.9 1749.4,1814.0 1751.9,1812.9 1754.5,1811.6 1756.9,1810.1 1759.8,1808.1 1762.5,1806.0 1765.1,1803.7 1767.0,1801.6 1769.2,1799.1 1772.8,1793.9 1775.9,1788.4 1779.1,1781.6 1781.8,1774.5 1784.5,1766.8 1787.4,1757.4 1789.8,1748.7 1793.3,1734.6 1801.1,1700.1 1808.0,1671.6 1813.3,1649.1 1814.7,1644.2 1815.1,1643.3 1815.5,1643.0 1815.7,1643.1 1816.1,1643.9 1816.8,1647.0 1817.8,1654.4 1818.7,1663.0 1820.0,1680.1 1823.1,1726.1 1824.9,1747.6 1827.1,1766.1 1828.3,1773.9 1829.6,1781.3 1831.2,1788.7 1833.1,1795.6 1835.3,1801.7 1838.1,1807.6 1840.9,1812.5 1844.0,1816.7 1847.1,1819.7 1850.2,1821.8 1853.7,1823.5 1857.9,1824.9 1863.7,1826.5 1870.2,1828.0 1878.2,1829.5 1887.7,1831.1 1909.2,1834.2 1932.6,1836.8 1975.1,1840.6 1991.4,1842.3 2095.1,1854.5 2202.0,1866.0" stroke="#4a4a4a"/>
<path d="M1144.6,1695.2 1149.8,1715.3 1154.5,1730.7 1156.9,1737.5 1159.1,1743.2 1161.7,1748.9 1164.1,1753.8 1166.8,1758.3 1169.1,1761.6 1171.7,1764.6 1174.6,1767.4 1177.8,1769.9 1180.8,1771.6 1184.1,1772.8 1186.8,1773.3 1190.1,1773.1 1193.4,1772.4 1196.7,1771.0 1200.2,1768.8 1203.0,1766.8 1205.6,1764.5 1216.7,1753.9 1221.2,1749.9 1227.1,1745.4 1232.7,1742.0 1238.7,1739.0 1246.1,1736.2 1251.8,1734.6 1257.4,1733.7 1261.5,1733.6 1266.3,1733.8 1283.6,1736.0 1292.2,1736.5 1301.0,1736.4 1332.6,1734.9 1351.4,1734.7 1374.1,1735.2 1430.8,1737.3 1461.8,1737.9 1495.1,1738.2 1622.3,1738.6 1643.9,1738.5 1663.0,1738.2 1681.3,1737.5 1702.5,1736.3 1725.7,1734.7 1740.0,1733.4 1747.9,1732.5 1755.2,1731.1 1762.1,1729.1 1766.1,1727.6 1769.3,1726.0 1772.2,1724.1 1775.4,1721.7 1778.4,1719.0 1781.3,1716.0 1783.9,1712.8 1786.8,1708.8 1789.0,1705.2 1791.3,1701.2 1793.1,1697.5 1795.0,1693.0 1798.6,1683.5 1804.7,1665.1 1806.5,1659.1 1808.1,1652.4 1811.5,1634.9 1815.6,1611.5 1820.8,1580.3 1824.5,1560.8 1830.2,1522.4 1832.9,1506.3 1835.9,1490.6 1838.8,1476.7 1841.1,1467.5 1842.2,1463.9 1843.6,1460.4 1844.7,1458.5 1845.5,1458.0 1845.9,1458.1 1846.7,1459.0 1847.7,1461.3 1848.6,1464.6 1849.3,1469.2 1851.3,1495.4 1854.1,1543.2 1856.7,1574.3 1859.1,1598.4 1861.1,1616.4 1863.6,1633.4 1866.1,1648.0 1868.8,1661.4 1872.0,1674.2 1875.6,1686.0 1879.3,1696.6 1883.4,1706.2 1885.3,1709.9 1887.4,1713.7 1889.3,1716.6 1891.3,1719.3 1893.5,1721.7 1895.4,1723.5 1899.1,1726.3 1902.8,1728.4 1907.1,1730.4 1912.3,1732.3 1918.1,1733.9 1925.1,1735.6 1933.4,1737.2 1942.3,1738.6 1955.3,1740.3 1971.4,1742.1 2059.0,1750.8 2098.0,1755.0 2141.9,1760.4 2202.0,1768.5" stroke="#f23236"/>
<path d="M1145.0,1511.8 1159.2,1557.5 1165.6,1576.7 1169.2,1586.1 1172.6,1594.2 1176.3,1602.3 1180.1,1609.5 1184.2,1616.6 1188.5,1622.7 1192.8,1627.9 1197.7,1632.8 1202.0,1636.1 1204.2,1637.5 1206.6,1638.8 1209.1,1639.8 1211.6,1640.6 1216.3,1641.6 1221.3,1641.9 1226.2,1641.5 1231.0,1640.4 1235.5,1638.7 1239.0,1636.8 1242.9,1634.1 1247.8,1630.3 1260.2,1620.0 1266.1,1615.3 1272.6,1610.6 1278.4,1607.0 1284.6,1603.9 1290.3,1601.8 1296.8,1600.3 1300.8,1599.7 1304.5,1599.3 1311.0,1599.1 1319.9,1599.6 1331.0,1600.6 1369.6,1604.8 1381.8,1605.8 1394.1,1606.4 1407.0,1606.7 1446.8,1607.4 1535.3,1609.5 1563.5,1609.8 1589.6,1609.9 1622.8,1609.5 1658.4,1608.4 1701.2,1606.6 1737.1,1604.6 1749.2,1603.6 1758.2,1602.3 1764.3,1601.1 1769.7,1599.8 1773.6,1598.6 1777.6,1597.2 1781.7,1595.3 1785.8,1593.0 1789.8,1590.3 1793.0,1587.6 1796.0,1584.6 1799.2,1580.8 1802.4,1576.3 1805.3,1571.6 1808.0,1566.7 1810.6,1561.1 1813.4,1554.2 1816.9,1544.6 1819.1,1538.0 1821.1,1531.4 1823.0,1524.1 1824.7,1516.6 1827.5,1503.1 1830.0,1488.5 1831.9,1475.4 1833.6,1461.2 1836.8,1427.0 1840.3,1383.3 1842.4,1359.9 1850.3,1276.2 1852.3,1257.2 1854.0,1244.8 1856.0,1234.0 1857.9,1225.9 1858.8,1223.6 1859.5,1223.0 1860.2,1223.6 1860.8,1225.2 1862.5,1232.7 1864.5,1244.1 1866.0,1256.5 1867.7,1275.5 1874.7,1368.8 1877.9,1405.9 1879.7,1425.2 1882.5,1451.3 1886.3,1490.0 1887.5,1500.3 1888.7,1508.9 1890.6,1519.1 1893.0,1528.4 1896.0,1538.0 1899.8,1547.9 1903.4,1555.9 1907.4,1563.1 1911.5,1569.4 1916.3,1575.5 1921.4,1580.8 1926.7,1585.3 1932.1,1588.9 1935.4,1590.7 1938.4,1592.2 1945.9,1595.2 1953.9,1597.5 1962.8,1599.6 1973.3,1601.4 1987.6,1603.3 2001.0,1604.6 2067.0,1608.7 2096.2,1610.7 2139.3,1614.0 2202.0,1619.2" stroke="#1068e0"/>
<path d="M1145.0,1369.3 1149.6,1385.8 1156.6,1408.6 1161.1,1422.3 1165.3,1433.7 1170.1,1445.0 1176.2,1458.0 1183.4,1472.0 1190.5,1484.8 1195.9,1493.7 1201.0,1501.0 1204.1,1504.9 1207.6,1508.9 1210.7,1512.4 1213.6,1515.2 1216.3,1517.4 1218.6,1519.1 1224.2,1522.3 1227.8,1524.0 1231.0,1525.2 1233.6,1526.1 1236.3,1526.6 1239.7,1527.1 1243.3,1527.3 1247.0,1527.3 1249.9,1527.2 1253.4,1526.8 1257.2,1526.0 1260.3,1525.2 1263.7,1524.1 1267.7,1522.4 1273.2,1519.8 1292.6,1509.9 1298.8,1506.3 1309.1,1499.1 1314.6,1495.5 1321.9,1491.4 1329.9,1487.5 1341.5,1482.5 1347.4,1480.3 1352.6,1478.5 1357.2,1477.2 1361.8,1476.1 1365.7,1475.4 1369.6,1474.9 1373.0,1474.7 1377.1,1474.6 1385.3,1475.1 1394.8,1476.4 1420.6,1480.8 1435.5,1482.7 1447.4,1483.9 1460.3,1485.0 1472.9,1485.8 1485.4,1486.4 1501.0,1486.8 1517.4,1486.8 1590.2,1484.6 1615.6,1484.2 1637.5,1484.2 1654.1,1484.4 1666.6,1484.8 1673.9,1485.5 1683.6,1486.9 1689.9,1487.2 1700.3,1486.9 1715.0,1486.0 1733.6,1484.3 1748.6,1482.6 1758.8,1481.1 1766.8,1479.5 1773.1,1477.7 1779.6,1475.4 1783.3,1473.6 1786.8,1471.6 1790.3,1469.2 1793.5,1466.4 1797.0,1462.9 1800.2,1459.1 1803.0,1455.3 1805.5,1451.2 1808.0,1446.4 1810.3,1441.2 1812.3,1436.4 1814.0,1431.4 1816.9,1421.1 1822.2,1398.8 1825.9,1382.6 1829.6,1364.3 1840.6,1306.0 1845.4,1278.5 1849.8,1249.2 1855.9,1200.8 1864.2,1142.1 1870.4,1095.0 1871.8,1086.2 1874.1,1073.6 1875.1,1070.1 1875.5,1069.3 1875.9,1069.0 1876.2,1069.1 1876.5,1069.6 1877.2,1071.3 1878.6,1077.4 1880.3,1088.0 1882.3,1103.6 1884.6,1124.0 1886.7,1145.3 1893.6,1226.0 1897.0,1259.9 1899.3,1280.5 1902.1,1301.3 1905.1,1322.5 1908.2,1341.8 1911.7,1360.9 1915.2,1378.0 1918.7,1392.6 1922.5,1405.6 1926.3,1416.8 1930.0,1425.6 1932.0,1429.8 1934.3,1433.8 1936.7,1437.7 1939.0,1440.9 1941.5,1444.1 1944.4,1447.4 1947.5,1450.5 1951.2,1453.9 1954.4,1456.6 1958.2,1459.5 1961.8,1462.0 1965.4,1464.1 1970.3,1466.5 1975.3,1468.2 1985.8,1471.1 1998.3,1474.2 2010.1,1476.6 2021.1,1478.4 2095.5,1488.2 2138.9,1493.6 2202.0,1500.9" stroke="#25a560"/>
</g>
<path d="M1143.5,1014.5H2203.5V1871.3H1143.5Z" fill="none" stroke="#111" stroke-width="3"/>
<path d="M1142,1871.3H2205" stroke="#222" stroke-width="4"/>
<path d="M1160.7,1869.5V1860.3M1334.5,1869.5V1860.3M1508.3,1869.5V1860.3M1682.1,1869.5V1860.3M1855.9,1869.5V1860.3M2029.7,1869.5V1860.3M1247.6,1869.5V1864.3M1421.4,1869.5V1864.3M1595.2,1869.5V1864.3M1769.0,1869.5V1864.3M1942.8,1869.5V1864.3M2116.6,1869.5V1864.3" stroke="#111" stroke-width="3"/>
<text transform="translate(1142.06,1910.21) scale(0.9472,1)" font-size="39.40" fill="#1a1a1a">50</text>
<text transform="translate(1306.07,1910.21) scale(0.9472,1)" font-size="39.40" fill="#1a1a1a">100</text>
<text transform="translate(1479.87,1910.21) scale(0.9472,1)" font-size="39.40" fill="#1a1a1a">150</text>
<text transform="translate(1654.61,1910.21) scale(0.9472,1)" font-size="39.40" fill="#1a1a1a">200</text>
<text transform="translate(1828.41,1910.21) scale(0.9472,1)" font-size="39.40" fill="#1a1a1a">250</text>
<text transform="translate(2002.02,1910.21) scale(0.9472,1)" font-size="39.40" fill="#1a1a1a">300</text>
<text transform="translate(1628.35,1964.32) scale(0.9245,1)" font-size="46.11" fill="#111">T(°C)</text>
<path d="M1165.8,1058V1149" stroke="#777" stroke-width="2.2"/>
<path d="M1165.8,1037L1172.6,1058.5L1159,1058.5Z" fill="#111"/>
<text transform="translate(1175.23,1210.01) rotate(-90) scale(1.0199,1)" font-size="37" fill="#505050">exo</text>
<path d="M1242,1064.6H1329.3" stroke="#4a4a4a" stroke-width="5"/>
<text transform="translate(1335.62,1077.20) scale(0.9499,1)" font-size="38.2" fill="#1a1a1a">5 K/min</text>
<path d="M1242,1110H1329.3" stroke="#f23236" stroke-width="5"/>
<text transform="translate(1337.38,1122.80) scale(0.9367,1)" font-size="38.2" fill="#1a1a1a">10 K/min</text>
<path d="M1242,1155.7H1329.3" stroke="#1068e0" stroke-width="5"/>
<text transform="translate(1337.38,1168.20) scale(0.9367,1)" font-size="38.2" fill="#1a1a1a">15 K/min</text>
<path d="M1242,1201H1329.3" stroke="#25a560" stroke-width="5"/>
<text transform="translate(1335.15,1213.60) scale(0.9522,1)" font-size="38.2" fill="#1a1a1a">20 K/min</text>
<text transform="translate(2077.00,1063.88) scale(1.0389,1)" font-size="45.82" fill="#000">GC-4</text>
<text transform="translate(1702.13,1072.86) scale(0.9883,1)" font-size="37.21" fill="#70ad47">255.7 °C</text>
<text transform="translate(1686.92,1227.06) scale(0.9938,1)" font-size="37.21" fill="#2e75b6">251.1 °C</text>
<text transform="translate(1653.42,1532.53) scale(0.9589,1)" font-size="38.53" fill="#ff0000">246.7 °C</text>
<text transform="translate(1628.54,1669.43) scale(0.9499,1)" font-size="38.53" fill="#000000">238.5 °C</text>
</svg>
</body></html>
